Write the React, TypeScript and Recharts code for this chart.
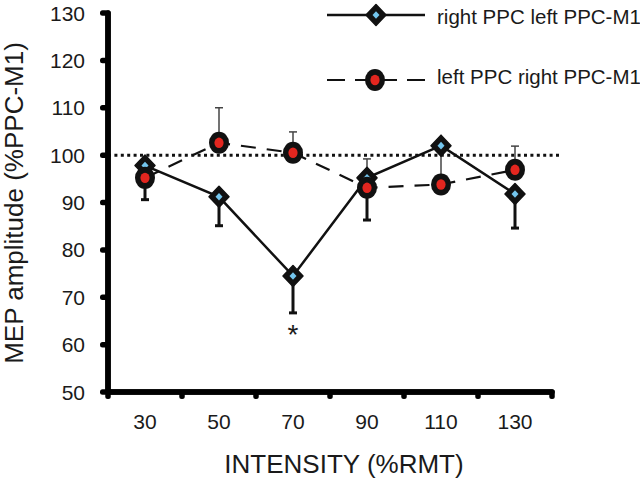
import React from 'react';
import { LineChart, Line, XAxis, YAxis, ErrorBar, ReferenceLine, LabelList } from 'recharts';

const intensity = [30, 50, 70, 90, 110, 130];
const rightLeftMean = [97.8, 91.2, 74.5, 95.2, 102.0, 91.8];
const rightLeftSem = [7.2, 6.1, 7.8, 8.9, 0, 7.2];
const leftRightMean = [95.2, 102.6, 100.5, 93.1, 93.8, 96.9];
const leftRightSem = [0, 7.4, 4.4, 6.1, 8.2, 5.0];
const significance = ['', '', '*', '', '', ''];
const seriesNames = ['right PPC left PPC-M1', 'left PPC right PPC-M1'];
const yTicks = [50, 60, 70, 80, 90, 100, 110, 120, 130];
const bandEdges = [20, 40, 60, 80, 100, 120, 140];
const xTitle = 'INTENSITY (%RMT)';
const yTitle = 'MEP amplitude (%PPC-M1)';

const chartData = intensity.map((x, i) => ({
  x,
  rl: rightLeftMean[i],
  rlErr: [rightLeftSem[i], 0],
  lr: leftRightMean[i],
  lrErr: [0, leftRightSem[i]],
  sig: significance[i],
}));

const FONT = '"Liberation Sans", Arial, sans-serif';
const INK = 'black';
const TEXT = '#1a1a1a';

function Diamond({ cx, cy }: { cx: number; cy: number }) {
  return (
    <g>
      <polygon
        points={`${cx},${cy - 10.5} ${cx + 10},${cy} ${cx},${cy + 10.5} ${cx - 10},${cy}`}
        fill="#111"
        stroke="#111"
        strokeWidth={1.5}
        strokeLinejoin="round"
      />
      <polygon
        points={`${cx},${cy - 3.8} ${cx + 3.5},${cy} ${cx},${cy + 3.8} ${cx - 3.5},${cy}`}
        fill="#74c6ee"
      />
    </g>
  );
}

function RedDot({ cx, cy }: { cx: number; cy: number }) {
  return (
    <g>
      <ellipse cx={cx} cy={cy} rx={10} ry={11} fill="#111" />
      <ellipse cx={cx} cy={cy} rx={4.6} ry={5.2} fill="#e3261f" />
    </g>
  );
}

const XTick = (props: any) => {
  const { x, y, payload } = props;
  const v = payload.value;
  if (bandEdges.includes(v)) {
    return <rect x={x - 2.75} y={y} width={5.5} height={7} rx={2.5} fill={INK} />;
  }
  return (
    <text x={x} y={y + 37} textAnchor="middle" fontSize={21} fill={TEXT} fontFamily={FONT}>
      {v}
    </text>
  );
};

const YTick = (props: any) => {
  const { x, y, payload } = props;
  return (
    <g>
      <rect x={100} y={y - 2.75} width={8} height={5.5} rx={2.5} fill={INK} />
      <text x={x} y={y} dy="0.36em" textAnchor="end" fontSize={21} fill={TEXT} fontFamily={FONT}>
        {payload.value}
      </text>
    </g>
  );
};

const SigLabel = (props: any) => {
  const { x, y, value } = props;
  if (!value) return null;
  return (
    <text x={x} y={y + 68} textAnchor="middle" fontSize={28} fill={TEXT} fontFamily={FONT}>
      {value}
    </text>
  );
};

export default function App() {
  const xTicks = [...bandEdges, ...intensity].sort((a, b) => a - b);
  return (
    <div style={{ position: 'absolute', left: 0, top: 0, width: 640, height: 478 }}>
      <LineChart width={640} height={478} data={chartData} margin={{ top: 13, right: 88, bottom: 0, left: 0 }}>
        <XAxis
          dataKey="x"
          type="number"
          domain={[20, 140]}
          ticks={xTicks}
          interval={0}
          height={86}
          tick={<XTick />}
          tickLine={false}
          tickSize={0}
          tickMargin={0}
          axisLine={{ stroke: INK, strokeWidth: 5.5, strokeLinecap: 'round' }}
        />
        <YAxis
          type="number"
          domain={[50, 130]}
          ticks={yTicks}
          interval={0}
          width={108}
          tick={<YTick />}
          tickLine={false}
          tickSize={5}
          tickMargin={18}
          axisLine={{ stroke: INK, strokeWidth: 5.5, strokeLinecap: 'round' }}
        />
        {/* heavy axis strokes drawn through the scales as well */}
        <ReferenceLine x={20} ifOverflow="visible" stroke={INK} strokeWidth={5.5} strokeLinecap="round" />
        <ReferenceLine y={50} ifOverflow="visible" stroke={INK} strokeWidth={5.5} strokeLinecap="round" />
        <ReferenceLine
          segment={[{ x: 20, y: 100 }, { x: 142.7, y: 100 }]}
          ifOverflow="visible"
          stroke="#111"
          strokeWidth={3}
          strokeDasharray="3 3.4"
        />
        {/* carries the thin upper error bars so they sit beneath the diamonds */}
        <Line dataKey="lr" stroke="none" dot={false} activeDot={false} isAnimationActive={false} legendType="none">
          <ErrorBar dataKey="lrErr" direction="y" width={4} stroke="#444" strokeWidth={1.5} isAnimationActive={false} />
        </Line>
        <Line
          dataKey="rl"
          name={seriesNames[0]}
          stroke="#111"
          strokeWidth={2.5}
          isAnimationActive={false}
          activeDot={false}
          dot={(p: any) => <Diamond key={`d-${p.index}`} cx={p.cx} cy={p.cy} />}
        >
          <ErrorBar dataKey="rlErr" direction="y" width={4} stroke="#111" strokeWidth={3} isAnimationActive={false} />
          <LabelList dataKey="sig" content={<SigLabel />} />
        </Line>
        <Line
          dataKey="lr"
          name={seriesNames[1]}
          stroke="#111"
          strokeWidth={2.2}
          strokeDasharray="15 11"
          isAnimationActive={false}
          activeDot={false}
          dot={(p: any) => <RedDot key={`c-${p.index}`} cx={p.cx} cy={p.cy} />}
        />
      </LineChart>
      <svg width={640} height={478} style={{ position: 'absolute', left: 0, top: 0, pointerEvents: 'none' }}>
        <text transform="translate(23,203) rotate(-90)" textAnchor="middle" fontSize={26} fill={TEXT} fontFamily={FONT}>
          {yTitle}
        </text>
        <text x={344} y={473} textAnchor="middle" fontSize={26} fill={TEXT} fontFamily={FONT}>
          {xTitle}
        </text>
        <line x1={327} y1={15} x2={425} y2={15} stroke="#111" strokeWidth={2.5} />
        <Diamond cx={376} cy={15} />
        <text x={437} y={24} fontSize={20.5} fill={TEXT} fontFamily={FONT}>{seriesNames[0]}</text>
        <line x1={327} y1={80} x2={375} y2={80} stroke="#111" strokeWidth={2.2} strokeDasharray="18 10" />
        <line x1={425} y1={80} x2={375} y2={80} stroke="#111" strokeWidth={2.2} strokeDasharray="18 10" />
        <RedDot cx={375} cy={80} />
        <text x={437} y={84} fontSize={20.5} fill={TEXT} fontFamily={FONT}>{seriesNames[1]}</text>
      </svg>
    </div>
  );
}
